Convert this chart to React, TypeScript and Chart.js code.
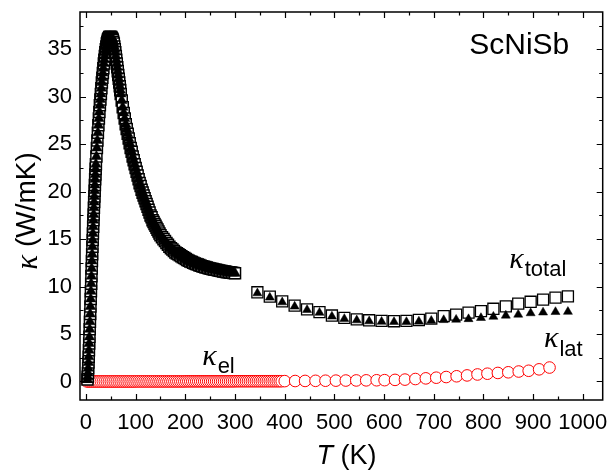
import React, { useEffect, useRef } from "react";
import { Chart, registerables } from "chart.js";

Chart.register(...registerables);

const FONT = "'Liberation Sans', Arial, Helvetica, sans-serif";
const SERIF = "'Liberation Serif', 'Times New Roman', serif";

// ---- tick labels ----
const xTickValues = [0, 100, 200, 300, 400, 500, 600, 700, 800, 900, 1000];
const xMinorValues = [50, 150, 250, 350, 450, 550, 650, 750, 850, 950];
const yTickValues = [0, 5, 10, 15, 20, 25, 30, 35];
const yMinorValues = [2.5, 7.5, 12.5, 17.5, 22.5, 27.5, 32.5, 37.5];

// ---- low temperature kappa_total (dense measurement, 3-300 K) ----
const lowT_a = [3, 3.5, 4, 4.5, 5, 5.5, 6, 6.5, 7, 7.5, 8, 8.5, 9, 9.5, 10, 10.5, 11, 11.5, 12, 12.5, 13, 13.5, 14, 14.5, 15, 15.5, 16, 16.5, 17, 17.5, 18, 18.5, 19, 19.5, 20];
const lowTotal_a = [0.2, 0.5, 0.9, 1.4, 2.0, 2.6, 3.3, 4.0, 4.7, 5.5, 6.3, 7.1, 7.9, 8.7, 9.5, 10.3, 11.1, 11.9, 12.7, 13.4, 14.2, 14.9, 15.6, 16.3, 17.0, 17.6, 18.3, 18.9, 19.5, 20.1, 20.7, 21.3, 21.8, 22.4, 22.9];
const lowT_b = [
  21, 22, 23, 24, 25, 26, 27, 28, 29, 30, 31, 32, 33, 34, 35, 36, 37, 38, 39, 40,
  41, 42, 43, 44, 45, 46, 47, 48, 49, 50, 51, 52, 53, 54, 55, 56, 57, 58, 59, 60,
  61, 62, 63, 64, 65, 66, 67, 68, 69, 70,
];
const lowTotal_b = [
  23.7, 24.6, 25.4, 26.2, 27.0, 27.7, 28.4, 29.1, 29.7, 30.3, 30.9, 31.5, 32.0, 32.5, 33.0, 33.5, 33.9, 34.3, 34.7, 35.0,
  35.3, 35.6, 35.8, 36.0, 36.1, 36.2, 36.3, 36.3, 36.3, 36.3, 36.3, 36.2, 36.1, 36.0, 35.8, 35.6, 35.3, 35.0, 34.7, 34.3,
  33.9, 33.5, 33.1, 32.7, 32.3, 31.9, 31.5, 31.1, 30.7, 30.3,
];
const lowT_c = [
  72, 74, 76, 78, 80, 82, 84, 86, 88, 90, 92, 94, 96, 98, 100, 102, 104, 106, 108, 110,
  112, 114, 116, 118, 120, 122, 124, 126, 128, 130, 132, 134, 136, 138, 140, 142, 144, 146, 148, 150,
];
const lowTotal_c = [
  29.6, 28.9, 28.3, 27.7, 27.1, 26.6, 26.1, 25.6, 25.1, 24.6, 24.2, 23.7, 23.3, 22.9, 22.5, 22.1, 21.7, 21.3, 20.9, 20.6,
  20.2, 19.9, 19.6, 19.3, 19.0, 18.7, 18.4, 18.1, 17.8, 17.5, 17.3, 17.0, 16.8, 16.6, 16.4, 16.2, 16.0, 15.8, 15.6, 15.4,
];
const lowT_d = [
  153, 156, 159, 162, 165, 168, 171, 174, 177, 180, 183, 186, 189, 192, 195, 198, 201, 204, 207, 210,
  213, 216, 219, 222, 225, 228, 231, 234, 237, 240, 243, 246, 249, 252, 255, 258, 261, 264, 267, 270,
  273, 276, 279, 282, 285, 288, 291, 294, 297, 300,
];
const lowTotal_d = [
  15.2, 15.0, 14.8, 14.6, 14.4, 14.2, 14.05, 13.9, 13.75, 13.6, 13.5, 13.4, 13.3, 13.2, 13.1, 13.0, 12.9, 12.8, 12.72, 12.65,
  12.58, 12.5, 12.44, 12.38, 12.32, 12.26, 12.2, 12.15, 12.1, 12.05, 12.0, 11.95, 11.9, 11.87, 11.84, 11.8, 11.77, 11.74, 11.7, 11.67,
  11.64, 11.6, 11.58, 11.55, 11.52, 11.5, 11.47, 11.45, 11.42, 11.4,
];
const lowT = [...lowT_a, ...lowT_b, ...lowT_c, ...lowT_d];
const lowTotal = [...lowTotal_a, ...lowTotal_b, ...lowTotal_c, ...lowTotal_d];

// ---- high temperature kappa_total and kappa_lat ----
const highT = [345, 370, 395, 420, 445, 470, 495, 520, 545, 570, 595, 620, 645, 670, 695, 720, 745, 770, 795, 820, 845, 870, 895, 920, 945, 970];
const highTotal = [9.4, 8.95, 8.45, 8.0, 7.6, 7.3, 6.95, 6.7, 6.55, 6.45, 6.38, 6.35, 6.38, 6.48, 6.62, 6.88, 7.05, 7.25, 7.42, 7.66, 7.92, 8.2, 8.4, 8.62, 8.84, 8.96];
const highLat = [9.3, 8.85, 8.35, 7.9, 7.55, 7.25, 6.85, 6.6, 6.45, 6.35, 6.3, 6.28, 6.28, 6.33, 6.4, 6.48, 6.52, 6.58, 6.7, 6.83, 6.95, 7.05, 7.2, 7.28, 7.33, 7.35];

// ---- kappa_el ----
const elLowT = [
  2, 6, 10, 14, 18, 22, 26, 30, 34, 38, 42, 46, 50, 54, 58, 62, 66, 70, 74, 78,
  82, 86, 90, 94, 98, 102, 106, 110, 114, 118, 122, 126, 130, 134, 138, 142, 146, 150, 154, 158,
  162, 166, 170, 174, 178, 182, 186, 190, 194, 198, 202, 206, 210, 214, 218, 222, 226, 230, 234, 238,
  242, 246, 250, 254, 258, 262, 266, 270, 274, 278, 282, 286, 290, 294, 298, 302, 306, 310, 314, 318,
  322, 326, 330, 334, 338, 342, 346, 350, 354, 358, 362, 366, 370, 374, 378, 382, 386, 390, 394,
];
const elLow = [
  0.0, 0.0, 0.0, 0.0, 0.0, 0.0, 0.0, 0.0, 0.0, 0.0, 0.0, 0.0, 0.0, 0.0, 0.0, 0.0, 0.0, 0.0, 0.0, 0.0,
  0.0, 0.0, 0.0, 0.0, 0.0, 0.01, 0.01, 0.01, 0.01, 0.01, 0.01, 0.01, 0.01, 0.01, 0.01, 0.01, 0.01, 0.01, 0.01, 0.01,
  0.01, 0.01, 0.01, 0.01, 0.01, 0.01, 0.01, 0.01, 0.01, 0.01, 0.02, 0.02, 0.02, 0.02, 0.02, 0.02, 0.02, 0.02, 0.02, 0.02,
  0.02, 0.02, 0.02, 0.02, 0.02, 0.02, 0.02, 0.02, 0.02, 0.02, 0.02, 0.02, 0.02, 0.02, 0.02, 0.03, 0.03, 0.03, 0.03, 0.03,
  0.03, 0.03, 0.03, 0.03, 0.03, 0.03, 0.03, 0.03, 0.03, 0.03, 0.03, 0.03, 0.03, 0.03, 0.03, 0.03, 0.03, 0.03, 0.03,
];
const elHighT = [400, 421, 441, 462, 482, 503, 523, 544, 564, 585, 601, 622, 642, 663, 684, 705, 725, 746, 767, 788, 808, 829, 850, 871, 891, 912, 933];
const elHigh = [0.04, 0.05, 0.06, 0.07, 0.08, 0.09, 0.1, 0.11, 0.12, 0.13, 0.14, 0.17, 0.2, 0.26, 0.33, 0.4, 0.47, 0.55, 0.64, 0.74, 0.82, 0.9, 0.97, 1.05, 1.13, 1.28, 1.47];

const pts = (xs: number[], ys: number[]) => xs.map((x, i) => ({ x, y: ys[i] }));

const decorPlugin = {
  id: "decor",
  afterDatasetsDraw(chart: any) {
    const { ctx, chartArea: a, scales } = chart;
    const x = scales.x;
    const y = scales.y;
    ctx.save();
    ctx.strokeStyle = "#000";
    ctx.lineWidth = 1.2;
    ctx.beginPath();
    const major = 6;
    const minor = 3.5;
    xTickValues.forEach((v) => {
      const p = Math.round(x.getPixelForValue(v)) + 0.5;
      ctx.moveTo(p, a.bottom); ctx.lineTo(p, a.bottom - major);
      ctx.moveTo(p, a.top); ctx.lineTo(p, a.top + major);
    });
    xMinorValues.forEach((v) => {
      const p = Math.round(x.getPixelForValue(v)) + 0.5;
      ctx.moveTo(p, a.bottom); ctx.lineTo(p, a.bottom - minor);
      ctx.moveTo(p, a.top); ctx.lineTo(p, a.top + minor);
    });
    yTickValues.forEach((v) => {
      const p = Math.round(y.getPixelForValue(v)) + 0.5;
      ctx.moveTo(a.left, p); ctx.lineTo(a.left + major, p);
      ctx.moveTo(a.right, p); ctx.lineTo(a.right - major, p);
    });
    yMinorValues.forEach((v) => {
      const p = Math.round(y.getPixelForValue(v)) + 0.5;
      ctx.moveTo(a.left, p); ctx.lineTo(a.left + minor, p);
      ctx.moveTo(a.right, p); ctx.lineTo(a.right - minor, p);
    });
    ctx.stroke();
    ctx.lineWidth = 1.5;
    ctx.strokeRect(a.left, a.top, a.right - a.left, a.bottom - a.top);
    ctx.restore();
  },
  afterDraw(chart: any) {
    const { ctx, scales } = chart;
    const x = scales.x;
    const y = scales.y;
    ctx.save();
    ctx.fillStyle = "#000";

    // sample name
    ctx.font = `30px ${FONT}`;
    ctx.textAlign = "center";
    ctx.textBaseline = "middle";
    ctx.fillText("ScNiSb", x.getPixelForValue(872), y.getPixelForValue(35.35));

    // kappa labels with subscripts
    const kappaLabel = (tx: number, ty: number, sub: string, dy: number) => {
      const px = x.getPixelForValue(tx);
      const py = y.getPixelForValue(ty);
      ctx.textAlign = "left";
      ctx.textBaseline = "alphabetic";
      ctx.font = `italic 30px ${SERIF}`;
      ctx.fillText("κ", px, py);
      const w = ctx.measureText("κ").width;
      ctx.font = `22px ${FONT}`;
      ctx.fillText(sub, px + w + 1, py + dy);
    };
    kappaLabel(852, 11.96, "total", 8);
    kappaLabel(922, 3.64, "lat", 9);
    kappaLabel(234, 1.74, "el", 8);

    // x title
    {
      ctx.textBaseline = "alphabetic";
      ctx.font = `italic 27px ${FONT}`;
      const w1 = ctx.measureText("T").width;
      ctx.font = `27px ${FONT}`;
      const w2 = ctx.measureText(" (K)").width;
      const cx = 346.5;
      const left = cx - (w1 + w2) / 2;
      ctx.textAlign = "left";
      ctx.font = `italic 27px ${FONT}`;
      ctx.fillText("T", left, 464);
      ctx.font = `27px ${FONT}`;
      ctx.fillText(" (K)", left + w1, 464);
    }
    // y title
    {
      ctx.translate(27, 211);
      ctx.rotate(-Math.PI / 2);
      ctx.textBaseline = "middle";
      ctx.font = `italic 31px ${SERIF}`;
      const w1 = ctx.measureText("κ").width;
      ctx.font = `28px ${FONT}`;
      const w2 = ctx.measureText(" (W/mK)").width;
      const left = -(w1 + w2) / 2;
      ctx.textAlign = "left";
      ctx.font = `italic 31px ${SERIF}`;
      ctx.fillText("κ", left, 2);
      ctx.font = `28px ${FONT}`;
      ctx.fillText(" (W/mK)", left + w1, 0);
    }
    ctx.restore();
  },
};

export default function App() {
  const ref = useRef<HTMLCanvasElement>(null);
  useEffect(() => {
    const square = {
      pointStyle: "rect",
      pointRadius: 7.8,
      pointBorderWidth: 1.5,
      pointBorderColor: "#000",
      pointBackgroundColor: "#fff",
      showLine: false,
    };
    const tri = {
      pointStyle: "triangle",
      pointRadius: 5.2,
      pointBorderWidth: 0.5,
      pointBorderColor: "#000",
      pointBackgroundColor: "#000",
      showLine: false,
    };
    const circ = {
      pointStyle: "circle",
      pointRadius: 5.8,
      pointBorderWidth: 1,
      pointBorderColor: "#ff0000",
      pointBackgroundColor: "#fff",
      showLine: false,
    };
    const chart = new Chart(ref.current as HTMLCanvasElement, {
      type: "scatter",
      data: {
        datasets: [
          { label: "el low", data: pts(elLowT, elLow), order: 5, ...circ },
          { label: "el high", data: pts(elHighT, elHigh), order: 4, ...circ },
          { label: "total low", data: pts(lowT, lowTotal), order: 3, ...square },
          { label: "total high", data: pts(highT, highTotal), order: 3, ...square, pointBorderWidth: 1.3 },
          { label: "lat low", data: pts(lowT, lowTotal), order: 1, ...tri, pointRadius: 6 },
          { label: "lat high", data: pts(highT, highLat), order: 1, ...tri },
        ] as any,
      },
      options: {
        responsive: false,
        animation: false,
        devicePixelRatio: 1,
        layout: { padding: { left: 0, top: 12, right: 6, bottom: 0 } },
        plugins: { legend: { display: false }, tooltip: { enabled: false } },
        scales: {
          x: {
            type: "linear",
            min: -12,
            max: 1040,
            grid: { display: false, drawTicks: false },
            border: { display: false },
            afterBuildTicks: (s: any) => {
              s.ticks = xTickValues.map((v) => ({ value: v }));
            },
            afterFit: (s: any) => {
              s.height = 70;
              s.paddingLeft = 0;
              s.paddingRight = 0;
            },
            ticks: {
              font: { size: 22, family: FONT },
              color: "#000",
              padding: 10,
              maxRotation: 0,
              autoSkip: false,
              callback: (v: any) => String(v),
            },
          },
          y: {
            type: "linear",
            min: -1.95,
            max: 38.93,
            grid: { display: false, drawTicks: false },
            border: { display: false },
            afterBuildTicks: (s: any) => {
              s.ticks = yTickValues.map((v) => ({ value: v }));
            },
            afterFit: (s: any) => {
              s.width = 80;
              s.paddingTop = 0;
              s.paddingBottom = 0;
            },
            ticks: {
              font: { size: 22, family: FONT },
              color: "#000",
              padding: 8,
              autoSkip: false,
              callback: (v: any) => String(v),
            },
          },
        },
      } as any,
      plugins: [decorPlugin],
    });
    return () => chart.destroy();
  }, []);
  return (
    <div style={{ position: "fixed", left: 0, top: 0, width: 612, height: 470, background: "#fff" }}>
      <canvas ref={ref} width={612} height={470} style={{ display: "block" }} />
    </div>
  );
}
